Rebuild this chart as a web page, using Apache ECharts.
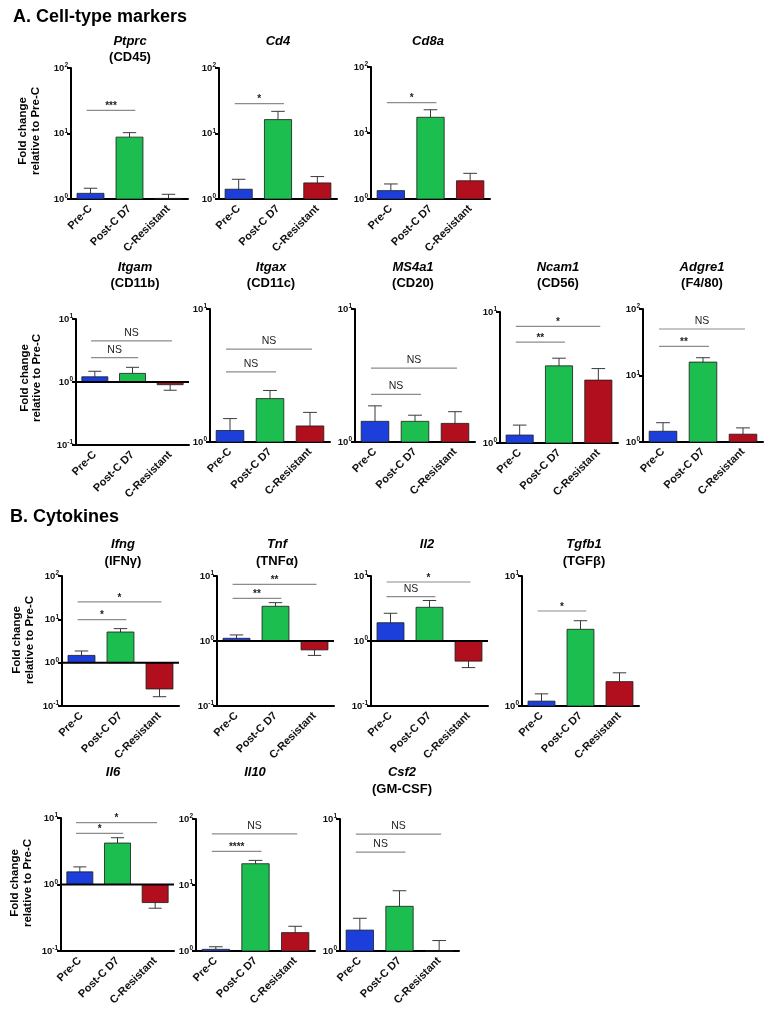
<!DOCTYPE html>
<html>
<head>
<meta charset="utf-8">
<script src="https://cdn.jsdelivr.net/npm/echarts@6/dist/echarts.min.js"></script>
<style>
html,body{margin:0;padding:0;background:#fff;}
#chart{width:772px;height:1017px;}
</style>
</head>
<body>
<div id="chart"></div>
<script>
// ---------------- data ----------------
const groups = ['Pre-C', 'Post-C D7', 'C-Resistant'];
const genes = ['Ptprc','Cd4','Cd8a','Itgam','Itgax','MS4a1','Ncam1','Adgre1','Ifng','Tnf','Il2','Tgfb1','Il6','Il10','Csf2'];
const proteins = ['(CD45)','','','(CD11b)','(CD11c)','(CD20)','(CD56)','(F4/80)','(IFNγ)','(TNFα)','','(TGFβ)','','','(GM-CSF)'];
// mean fold change (Pre-C, Post-C D7, C-Resistant)
const meanFold = [
  [1.22, 8.8, 1.02],
  [1.41, 16.3, 1.76],
  [1.34, 17.3, 1.89],
  [1.21, 1.37, 0.906],
  [1.22, 2.12, 1.32],
  [1.43, 1.43, 1.38],
  [1.15, 3.88, 3.02],
  [1.45, 15.9, 1.31],
  [1.47, 5.1, 0.247],
  [1.10, 3.42, 0.73],
  [1.91, 3.3, 0.49],
  [1.09, 3.89, 1.54],
  [1.55, 4.2, 0.535],
  [1.06, 21, 1.9],
  [1.44, 2.18, 1.0]
];
// end of the one-sided error bar (mean + SEM, or mean - SEM for bars below 1)
const errorEnd = [
  [1.46, 10.3, 1.18],
  [2.0, 21.8, 2.2],
  [1.69, 22.5, 2.45],
  [1.48, 1.71, 0.74],
  [1.50, 2.44, 1.67],
  [1.87, 1.59, 1.69],
  [1.37, 4.44, 3.70],
  [1.95, 18.5, 1.63],
  [1.86, 6.1, 0.164],
  [1.24, 3.89, 0.60],
  [2.67, 4.2, 0.39],
  [1.24, 4.53, 1.80],
  [1.84, 5.05, 0.44],
  [1.16, 23.6, 2.37],
  [1.77, 2.86, 1.2]
];
// y-axis decade range (exponents)
const yMinExp = [0,0,0,-1,0,0,0,0,-1,-1,-1,0,-1,0,0];
const yMaxExp = [2,2,2, 1,1,1,1,2, 2, 1, 1,1, 1,2,1];
// significance brackets: [fromGroup, toGroup, level (fold), label]
const brackets = [
  [[0,1,22.6,'***']],
  [[0,1,28.5,'*']],
  [[0,1,28.8,'*']],
  [[0,1,2.43,'NS'],[0,2,4.48,'NS']],
  [[0,1,3.37,'NS'],[0,2,5.0,'NS']],
  [[0,1,2.28,'NS'],[0,2,3.59,'NS']],
  [[0,1,5.88,'**'],[0,2,7.78,'*']],
  [[0,1,27.5,'**'],[0,2,50,'NS']],
  [[0,1,9.8,'*'],[0,2,25.2,'*']],
  [[0,1,4.54,'**'],[0,2,7.45,'**']],
  [[0,1,4.8,'NS'],[0,2,8.09,'*']],
  [[0,1,5.38,'*']],
  [[0,1,5.88,'*'],[0,2,8.5,'*']],
  [[0,1,32.3,'****'],[0,2,59.4,'NS']],
  [[0,1,5.61,'NS'],[0,2,7.69,'NS']]
];
const sectionTitles = ['A. Cell-type markers', 'B. Cytokines'];
const yAxisTitle = ['Fold change', 'relative to Pre-C'];

// ---------------- layout / style ----------------
const FONT = '"Liberation Sans", Arial, Helvetica, sans-serif';
const barColors = ['#1c3fdc', '#1cbf4f', '#b10f1d'];
// grid boxes [left, top, width, height]
const gridBoxes = [
  [71, 68, 117, 131], [219, 68, 118, 131], [371, 67, 119, 132],
  [76, 319, 113, 126], [210, 309, 120, 133], [355, 309, 120, 133], [500, 312, 118, 131], [643, 309, 120, 133],
  [62, 576, 117, 130], [217, 576, 117, 130], [371, 576, 117, 130], [522, 576, 117, 130],
  [61, 818, 113, 133], [196, 819, 119, 132], [340, 819, 119, 132]
];
// title centers [x, yGene, yProtein]
const titlePos = [
  [130, 41, 57], [278, 41, 57], [428, 41, 57],
  [135, 267, 283], [271, 267, 283], [413, 267, 283], [558, 267, 283], [702, 267, 283],
  [123, 544, 561], [277, 544, 561], [427, 544, 561], [584, 544, 561],
  [113, 772, 789], [255, 772, 789], [402, 772, 789]
];
const yTitlePos = [[23, 36, 131], [25, 37, 378], [17, 30, 640], [15, 28, 883]];

function renderBars(params, api) {
  const k = api.value(0), v = api.value(1), e = api.value(2);
  const band = api.size([1, 0])[0];
  const w = band * 0.69;
  const pBase = api.coord([k, 1]);
  const pTop = api.coord([k, v]);
  const pErr = api.coord([k, e]);
  const x = pBase[0];
  const y0 = Math.min(pBase[1], pTop[1]);
  const h = Math.abs(pBase[1] - pTop[1]);
  const cap = w * 0.5;
  return {
    type: 'group',
    children: [
      {type: 'line', shape: {x1: x, y1: pTop[1], x2: x, y2: pErr[1]}, style: {stroke: '#3a3a3a', lineWidth: 1}},
      {type: 'line', shape: {x1: x - cap / 2, y1: pErr[1], x2: x + cap / 2, y2: pErr[1]}, style: {stroke: '#3a3a3a', lineWidth: 1}},
      {type: 'rect', shape: {x: x - w / 2, y: y0, width: w, height: h}, style: {fill: barColors[k], stroke: '#1a1a1a', lineWidth: 0.8}}
    ]
  };
}

function makeBracketRenderer(i) {
  return function (params, api) {
    const b = brackets[i][params.dataIndex];
    const band = api.size([1, 0])[0];
    const p0 = api.coord([b[0], b[2]]);
    const p1 = api.coord([b[1], b[2]]);
    const x0 = p0[0] - 0.1 * band;
    const x1 = p1[0] + (b[1] - b[0] > 1 ? 0.05 : 0.15) * band;
    const y = p0[1];
    const isNS = b[3] === 'NS';
    return {
      type: 'group',
      children: [
        {type: 'line', shape: {x1: x0, y1: y, x2: x1, y2: y}, style: {stroke: '#8c8c8c', lineWidth: 1.2}},
        {type: 'text', style: {
          text: b[3], x: (x0 + x1) / 2, y: isNS ? y - 8 : y - 4,
          align: 'center', verticalAlign: 'middle', textAlign: 'center', textVerticalAlign: 'middle',
          fill: '#222', font: (isNS ? 'normal 10.5px ' : 'bold 10px ') + FONT
        }}
      ]
    };
  };
}

function renderBaseline(params, api) {
  const cs = params.coordSys;
  const y = api.coord([0, 1])[1];
  return {type: 'line', shape: {x1: cs.x, y1: y, x2: cs.x + cs.width, y2: y}, style: {stroke: '#000', lineWidth: 2}};
}

const option = {animation: false, backgroundColor: '#fff', grid: [], xAxis: [], yAxis: [], series: [], graphic: []};

genes.forEach((g, i) => {
  const gb = gridBoxes[i];
  option.grid.push({left: gb[0], top: gb[1], width: gb[2], height: gb[3], containLabel: false});
  option.xAxis.push({
    type: 'category', gridIndex: i, data: groups,
    axisLine: {onZero: false, lineStyle: {color: '#000', width: 2}},
    axisTick: {show: false},
    axisLabel: {rotate: 45, interval: 0, fontSize: 11, fontWeight: 'bold', color: '#111', margin: 8, fontFamily: FONT}
  });
  option.yAxis.push({
    type: 'log', logBase: 10, gridIndex: i,
    min: Math.pow(10, yMinExp[i]), max: Math.pow(10, yMaxExp[i]),
    splitLine: {show: false},
    minorTick: {show: false},
    axisLine: {show: true, lineStyle: {color: '#000', width: 2}},
    axisTick: {show: true, length: 4, lineStyle: {color: '#000', width: 2}},
    axisLabel: {
      margin: 3,
      formatter: function (val) {
        const ex = Math.round(Math.log10(val));
        return '{b|10}{s|' + ex + '}';
      },
      rich: {
        b: {fontSize: 9.5, fontWeight: 'bold', color: '#111', fontFamily: FONT, lineHeight: 12},
        s: {fontSize: 6.5, fontWeight: 'bold', color: '#111', fontFamily: FONT, lineHeight: 12, verticalAlign: 'top'}
      }
    }
  });
  if (yMinExp[i] < 0) {
    option.series.push({type: 'custom', xAxisIndex: i, yAxisIndex: i, renderItem: renderBaseline, data: [[0, 1]], encode: {x: 0, y: 1}, z: 3, silent: true});
  }
  option.series.push({
    type: 'custom', xAxisIndex: i, yAxisIndex: i, renderItem: renderBars, z: 2,
    encode: {x: 0, y: [1, 2]},
    data: groups.map((gname, k) => [k, meanFold[i][k], errorEnd[i][k]])
  });
  option.series.push({
    type: 'custom', xAxisIndex: i, yAxisIndex: i, renderItem: makeBracketRenderer(i), z: 4,
    encode: {x: [0, 1], y: 2},
    data: brackets[i].map(b => [b[0], b[1], b[2]])
  });
  const tp = titlePos[i];
  option.graphic.push({type: 'text', style: {text: g, x: tp[0], y: tp[1], align: 'center', verticalAlign: 'middle', textAlign: 'center', textVerticalAlign: 'middle', fill: '#000', font: 'italic bold 13px ' + FONT}});
  if (proteins[i]) {
    option.graphic.push({type: 'text', style: {text: proteins[i], x: tp[0], y: tp[2], align: 'center', verticalAlign: 'middle', textAlign: 'center', textVerticalAlign: 'middle', fill: '#000', font: 'bold 13px ' + FONT}});
  }
});

option.graphic.push({type: 'text', style: {text: sectionTitles[0], x: 13, y: 17, align: 'left', verticalAlign: 'middle', textAlign: 'left', textVerticalAlign: 'middle', fill: '#000', font: 'bold 18px ' + FONT}});
option.graphic.push({type: 'text', style: {text: sectionTitles[1], x: 10, y: 517, align: 'left', verticalAlign: 'middle', textAlign: 'left', textVerticalAlign: 'middle', fill: '#000', font: 'bold 18px ' + FONT}});

yTitlePos.forEach(p => {
  [0, 1].forEach(j => {
    option.graphic.push({type: 'text', x: p[j], y: p[2], rotation: Math.PI / 2,
      style: {text: yAxisTitle[j], x: 0, y: 0, align: 'center', verticalAlign: 'middle', textAlign: 'center', textVerticalAlign: 'middle', fill: '#000', font: 'bold 11.5px ' + FONT}});
  });
});

const chart = echarts.init(document.getElementById('chart'), null, {renderer: 'canvas'});
chart.setOption(option);
</script>
</body>
</html>
